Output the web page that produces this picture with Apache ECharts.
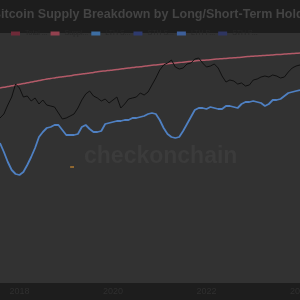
<!DOCTYPE html>
<html><head><meta charset="utf-8">
<script src="https://cdn.jsdelivr.net/npm/echarts@6/dist/echarts.min.js"></script>
<style>html,body{margin:0;padding:0;background:#1d1d1d}#c{width:300px;height:300px}</style>
</head><body><div id="c"></div>
<script>
// monthly categories Aug 2017 .. Jan 2024
var categories = [];
(function(){var y=2017,m=8;for(var i=0;i<78;i++){categories.push(y+'-'+(m<10?'0':'')+m);m++;if(m>12){m=1;y++;}}})();
var tickYears = ['2018-01','2020-01','2022-01','2024-01'];
var titleText = 'Bitcoin Supply Breakdown by Long/Short-Term Holders';

var totalSupply = [195.0,195.7,196.5,197.2,198.0,198.7,199.4,200.2,200.9,201.7,
202.4,203.2,203.9,204.6,205.1,205.7,206.2,206.8,207.3,207.9,
208.4,209.0,209.5,210.1,210.6,211.2,211.7,212.1,212.6,213.1,
213.5,214.0,214.5,214.9,215.4,215.9,216.3,216.8,217.3,217.7,
218.1,218.5,218.9,219.3,219.7,220.1,220.4,220.8,221.2,221.6,
222.0,222.4,222.7,223.0,223.3,223.7,224.0,224.3,224.6,224.9,
225.2,225.5,225.8,226.2,226.5,226.8,227.0,227.3,227.6,227.8,
228.1,228.4,228.6,228.9,229.2,229.5,229.7,230.0];

var price = [165,169,178,186,199,195,186,187,182,185,
179,183,178,177,176,170,164,165,167,169,
175,183,189,192,187,185,182,184,180,183,
186,175,179,184,185,186,190,188,191,198,
205,213,218,220,223,216,214,215,219,220,
224,225,220,216,217,219,215,207,201,203,
202,199,200,197,198,203,204,206,207,206,
208,207,205,206,211,215,217,218];

var lthSupply = [140,131,121,113,109,108,111,118,126,135,
146,151,155,156,158,158,153,148,148,148,
149,156,158,154,151,151,152,159,160,161,
162,162,163,163,165,165,166,167,169,170,
169,163,155,149,146,145,146,152,159,166,
173,175,175,174,176,175,174,174,177,177,
176,175,179,181,181,182,181,180,177,179,
183,183,184,187,190,191,192,193];

var otherSeries = [];
for (var k=0;k<78;k++) otherSeries.push(null);
otherSeries[18]=116; otherSeries[19]=116;

var legendNames = ['Total Supply','Supply Held','LTH Supply','STH Supply','LTH Profit','STH Profit'];
var legendColors = ['#6e2a38','#93414f','#3d6ea3','#2e3a6e','#3d5f9a','#2e3560'];

var chart = echarts.init(document.getElementById('c'), null, {renderer:'canvas'});
var series = [
  {name:'price', type:'line', data:price, showSymbol:false, lineStyle:{color:'#111111', width:1}, itemStyle:{color:'#111111'}, z:3},
  {name:'total', type:'line', data:totalSupply, showSymbol:false, smooth:true, lineStyle:{color:'#b35a68', width:1.5}, itemStyle:{color:'#b35a68'}, z:2},
  {name:'lth', type:'line', data:lthSupply, showSymbol:false, lineStyle:{color:'#4f80c2', width:1.8}, itemStyle:{color:'#4f80c2'}, z:4},
  {name:'other', type:'line', data:otherSeries, showSymbol:false, lineStyle:{color:'#b07a30', width:1.5}, itemStyle:{color:'#b07a30'}, z:2}
];
legendNames.forEach(function(n,i){
  series.push({name:n, type:'line', data:[], showSymbol:false, lineStyle:{color:legendColors[i]}, itemStyle:{color:legendColors[i]}});
});
chart.setOption({
  animation:false,
  backgroundColor:'#1d1d1d',
  legend:{data:legendNames, left:6, top:25, itemWidth:9, itemHeight:4, itemGap:3, icon:'rect',
    textStyle:{color:'#262626', fontSize:7, width:28, overflow:'truncate'}},
  grid:{left:0, right:0, top:33, bottom:17, show:true, backgroundColor:'#323232', borderWidth:0,
    containLabel:false, outerBoundsMode:'none'},
  xAxis:{type:'category', data:categories, boundaryGap:false,
    axisLine:{show:false}, axisTick:{show:false}, splitLine:{show:false},
    axisLabel:{color:'#2f2f2f', fontSize:9, margin:4, hideOverlap:false,
      interval:function(i,v){return tickYears.indexOf(v)>=0;},
      formatter:function(v){return v.slice(0,4);}}},
  yAxis:{type:'value', min:0, max:250, show:false, splitLine:{show:false}},
  graphic:[
    {type:'text', x:-8, y:8, z:10,
      style:{text:titleText, fill:'#444444', font:'bold 12.5px "Liberation Sans"'}},
    {type:'text', left:84, top:145,
      style:{text:'checkonchain', fill:'#3b3b3b', font:'bold 23px "Liberation Sans"'}}],
  series:series
});
</script></body></html>
